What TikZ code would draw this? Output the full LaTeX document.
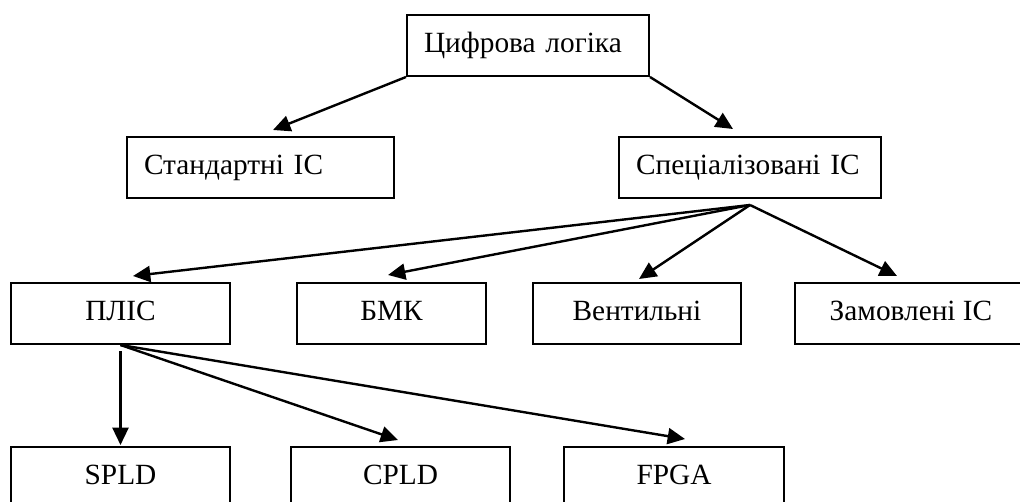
\documentclass[tikz,border=0pt]{standalone}
\usepackage{fontspec}
\setmainfont{Liberation Serif}
\usetikzlibrary{arrows.meta,calc}
\newlength\pxu
\setlength\pxu{0.75pt}

\begin{document}
\begin{tikzpicture}[x=0.75pt,y=-0.75pt,
		box/.style={draw,line width=1.5pt,anchor=north west,inner sep=0pt,
			minimum width=#1\pxu,minimum height=61\pxu,
			font=\fontsize{22}{26}\selectfont,text height=15.5pt,text depth=5.7pt},
		boxl/.style={box=#1,inner xsep=17\pxu,align=left},
		arr/.style={line width=1.8pt,-{Triangle[length=13pt,width=12pt]}}]
		\useasboundingbox (0,0) rectangle (1020,502);
		\clip (0,0) rectangle (1020,502);
		% top levels
		\node[boxl=242,text width=156pt] (logic) at (406,14) {\mbox{Цифрова логіка}};
		\node[boxl=267,text width=174.75pt] (std) at (126,136) {\mbox{Стандартні ІС}};
		\node[boxl=262,text width=171pt] (spec) at (618,136) {\mbox{Спеціалізовані ІС}};
		% third row
		\node[box=219] (plis) at (10,282) {ПЛІС};
		\node[box=189] (bmk) at (296,282) {БМК};
		\node[box=208] (vent) at (532,282) {Вентильні};
		\node[box=232] (zam) at (794,282) {Замовлені ІС};
		% bottom row
		\node[box=219] (spld) at (10,446) {SPLD};
		\node[box=219] (cpld) at (290,446) {CPLD};
		\node[box=220] (fpga) at (563,446) {FPGA};
		% arrow ends
		\coordinate (std-in) at ($(std.north west)+(147,-6)$);
		\coordinate (spec-in) at ($(spec.north west)+(115,-7)$);
		\coordinate (spec-out) at ($(spec.south)+(0,6)$);
		\coordinate (plis-in) at ($(plis.north west)+(123,-6)$);
		\coordinate (bmk-in) at ($(bmk.north west)+(92,-7)$);
		\coordinate (vent-in) at ($(vent.north west)+(107,-3)$);
		\coordinate (zam-in) at ($(zam.north west)+(103,-6)$);
		\coordinate (plis-down) at ($(plis.south)+(0,6)$);
		\coordinate (spld-in) at ($(spld.north)+(0,-1)$);
		\coordinate (cpld-in) at ($(cpld.north west)+(108,-6)$);
		\coordinate (fpga-in) at ($(fpga.north west)+(122,-7)$);
		\draw[arr] (logic.south west) -- (std-in);
		\draw[arr] (logic.south east) -- (spec-in);
		\foreach \t in {plis-in,bmk-in,vent-in,zam-in} % from spec
		\draw[arr] (spec-out) -- (\t);
		\draw[arr] (plis-down) -- (spld-in);
		\foreach \t in {cpld-in,fpga-in} % from plis
		\draw[arr] (plis.south) -- (\t);
\end{tikzpicture}
\end{document}
